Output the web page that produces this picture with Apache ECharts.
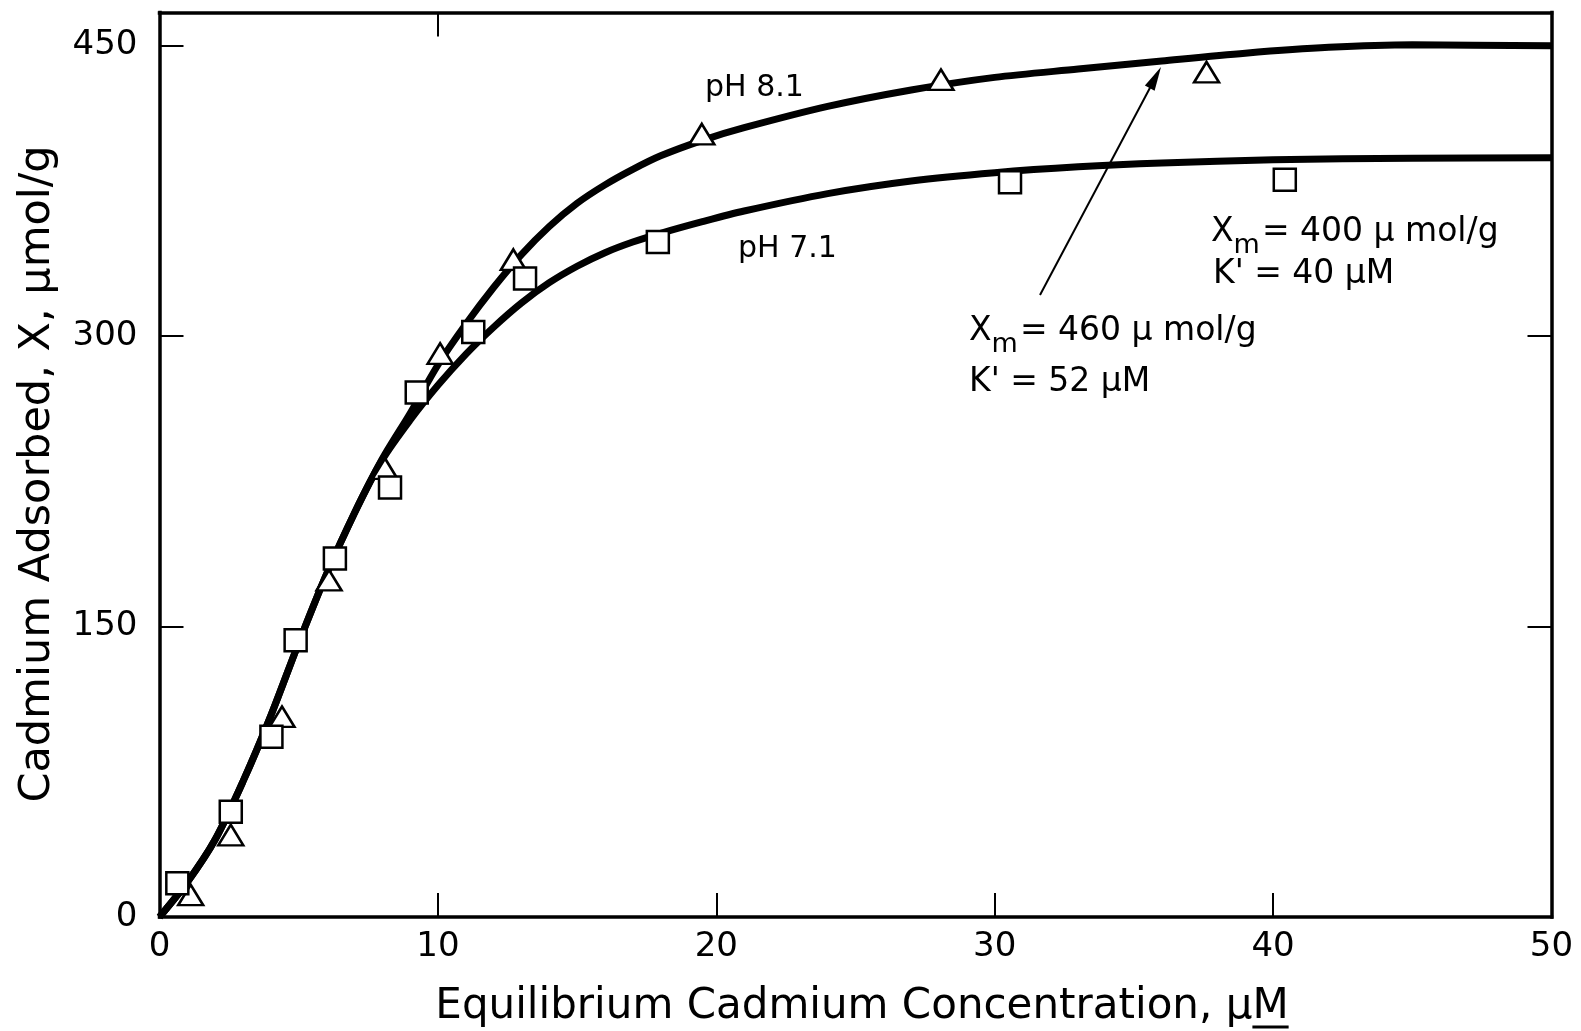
<!DOCTYPE html>
<html>
<head>
<meta charset="utf-8">
<script src="https://cdn.jsdelivr.net/npm/echarts@6/dist/echarts.min.js"></script>
<style>
html,body{margin:0;padding:0;background:#fff;}
#c{width:1581px;height:1031px;}
</style>
</head>
<body>
<div id="c"></div>
<script>
// ---- data ----
var xTickLabels = [0, 10, 20, 30, 40, 50];
var yTickLabels = [0, 150, 300, 450];

// measured points, pH 8.1 (triangles)
var ph81X = [1.12, 2.56, 4.40, 6.09, 8.10, 10.08, 12.71, 19.48, 28.07, 37.61];
var ph81Y = [11.4, 42.3, 103.4, 173.9, 231.5, 290.9, 339.4, 404.2, 432.3, 436.2];

// measured points, pH 7.1 (squares)
var ph71X = [0.64, 2.56, 4.02, 4.89, 6.30, 8.28, 9.24, 11.27, 13.13, 17.90, 30.55, 40.42];
var ph71Y = [17.4, 54.3, 93.0, 142.9, 185.1, 221.7, 270.8, 302.0, 329.6, 348.5, 379.3, 380.7];

// fitted curves
var ph81CurveX = [0, 1, 2, 3, 4, 5, 6, 7, 8, 9, 10, 11, 12, 13, 14, 15, 16, 17, 18, 19.5, 21, 24, 27, 30, 33, 36, 39, 42, 45, 50];
var ph81CurveY = [0, 18, 40, 70, 104, 141.5, 177, 208.5, 236.5, 260, 285, 306, 325, 342, 356.5, 368.5, 378, 386, 393, 401, 407.5, 418.5, 427, 433.5, 437.8, 442, 446, 449, 450.3, 449.8];

var ph71CurveX = [0, 1, 2, 3, 4, 5, 6, 7, 8, 9, 10, 11, 12, 13, 14, 15, 16, 17, 18, 19.5, 21, 24, 27, 30, 33, 36, 40, 45, 50];
var ph71CurveY = [0, 18, 40, 70, 104, 141.5, 177, 208.5, 236, 256.5, 274.5, 290.5, 304.5, 317, 327.5, 336, 343, 348.5, 353, 359, 364.5, 373.5, 380, 384.3, 387.3, 389.3, 391, 391.8, 392];

var xTitle = 'Equilibrium Cadmium Concentration, \u03bcM';
var yTitle = 'Cadmium Adsorbed, X, \u03bcmol/g';

function zip(a, b) { return a.map(function (v, i) { return [v, b[i]]; }); }

var FONT = '"DejaVu Sans", "Liberation Sans", sans-serif';
var mctx = document.createElement('canvas').getContext('2d');
function measure(str, size) { mctx.font = size + 'px "DejaVu Sans"'; return mctx.measureText(str).width; }

var chart = echarts.init(document.getElementById('c'), null, {renderer: 'canvas'});

var axisLineStyle = {color: '#000', width: 3.5, cap: 'square'};
var tickStyle = {color: '#000', width: 2};

function txt(str, x, y, size, extra) {
  var o = {
    type: 'text', x: x, y: y, silent: true, z: 100,
    style: {
      text: str, fontSize: size, fontFamily: FONT, fill: '#000',
      textAlign: 'left', textVerticalAlign: 'middle', align: 'left', verticalAlign: 'middle'
    }
  };
  if (extra) { for (var k in extra) o[k] = extra[k]; }
  return o;
}

var graphics = [];
// x-axis title with underlined M
var xTitleSize = 42, xTitleCx = 862, xTitleCy = 1007;
var xt = txt(xTitle, xTitleCx, xTitleCy, xTitleSize);
xt.style.textAlign = 'center'; xt.style.align = 'center';
graphics.push(xt);
var wT = measure(xTitle, xTitleSize), wM = measure('M', xTitleSize);
var xr = xTitleCx + wT / 2;
graphics.push({type: 'line', silent: true, z: 100, shape: {x1: xr - wM, y1: 1027, x2: xr, y2: 1027}, style: {stroke: '#000', lineWidth: 3}});
// y-axis title
var yt = txt(yTitle, 38, 474, 43, {rotation: Math.PI / 2});
yt.style.textAlign = 'center'; yt.style.align = 'center';
graphics.push(yt);

// curve labels
graphics.push(txt('pH 8.1', 705, 88, 30));
graphics.push(txt('pH 7.1', 738, 249.5, 30));

// Xm / K' annotations
function xmBlock(x, y, value, kLine, ky, kx) {
  var wX = measure('X', 33);
  graphics.push(txt('X', x, y, 33));
  graphics.push(txt('m', x + wX, y + 14, 27));
  var wm = measure('m', 27);
  graphics.push(txt('= ' + value + ' \u03bc mol/g', x + wX + wm + 2, y, 33));
  graphics.push(txt(kLine, kx, ky, 33));
}
xmBlock(969, 331, '460', 'K\' = 52 \u03bcM', 382, 969);
xmBlock(1211, 232, '400', 'K\' = 40 \u03bcM', 274, 1213);

// arrow
(function () {
  var x1 = 1040, y1 = 295, x2 = 1161, y2 = 67;
  var dx = x2 - x1, dy = y2 - y1, L = Math.sqrt(dx * dx + dy * dy);
  var ux = dx / L, uy = dy / L, nx = -uy, ny = ux;
  var hl = 24, hw = 5.5;
  var bx = x2 - ux * hl, by = y2 - uy * hl;
  graphics.push({type: 'line', silent: true, z: 100, shape: {x1: x1, y1: y1, x2: bx + ux * 4, y2: by + uy * 4}, style: {stroke: '#000', lineWidth: 2}});
  graphics.push({type: 'polygon', silent: true, z: 100, shape: {points: [[x2, y2], [bx + nx * hw, by + ny * hw], [bx - nx * hw, by - ny * hw]]}, style: {fill: '#000'}});
})();

var option = {
  backgroundColor: '#fff',
  animation: false,
  textStyle: {fontFamily: FONT, color: '#000'},
  grid: {left: 159.5, right: 29.5, top: 12.5, bottom: 114},
  xAxis: [
    {
      type: 'value', min: 0, max: 50, interval: 10, position: 'bottom',
      axisLine: {show: true, onZero: false, lineStyle: axisLineStyle},
      axisTick: {show: true, inside: true, length: 24, lineStyle: tickStyle, customValues: [10, 20, 30, 40]},
      axisLabel: {show: true, color: '#000', fontSize: 34, fontFamily: FONT, margin: 13, customValues: xTickLabels},
      splitLine: {show: false}
    },
    {
      type: 'value', min: 0, max: 50, interval: 10, position: 'top',
      axisLine: {show: true, onZero: false, lineStyle: axisLineStyle},
      axisTick: {show: true, inside: true, length: 24, lineStyle: tickStyle, customValues: [10]},
      axisLabel: {show: false},
      splitLine: {show: false}
    }
  ],
  yAxis: [
    {
      type: 'value', min: 0, max: 467, interval: 150, position: 'left',
      axisLine: {show: true, onZero: false, lineStyle: axisLineStyle},
      axisTick: {show: true, inside: true, length: 24, lineStyle: tickStyle, customValues: [150, 300, 450]},
      axisLabel: {show: true, color: '#000', fontSize: 34, fontFamily: FONT, margin: 22, customValues: yTickLabels},
      splitLine: {show: false}
    },
    {
      type: 'value', min: 0, max: 467, interval: 150, position: 'right',
      axisLine: {show: true, onZero: false, lineStyle: axisLineStyle},
      axisTick: {show: true, inside: true, length: 24, lineStyle: tickStyle, customValues: [150, 300]},
      axisLabel: {show: false},
      splitLine: {show: false}
    }
  ],
  series: [
    {
      name: 'pH 8.1 fit', type: 'line', data: zip(ph81CurveX, ph81CurveY),
      smooth: 0.3, symbol: 'none', silent: true, z: 2,
      lineStyle: {color: '#000', width: 7}
    },
    {
      name: 'pH 7.1 fit', type: 'line', data: zip(ph71CurveX, ph71CurveY),
      smooth: 0.3, symbol: 'none', silent: true, z: 2,
      lineStyle: {color: '#000', width: 7}
    },
    {
      name: 'pH 8.1', type: 'scatter', data: zip(ph81X, ph81Y),
      symbol: 'triangle', symbolSize: [25, 20.5], z: 5,
      itemStyle: {color: '#fff', borderColor: '#000', borderWidth: 2.5, opacity: 1}
    },
    {
      name: 'pH 7.1', type: 'scatter', data: zip(ph71X, ph71Y),
      symbol: 'rect', symbolSize: [22, 22], z: 5,
      itemStyle: {color: '#fff', borderColor: '#000', borderWidth: 2.5, opacity: 1}
    }
  ],
  graphic: graphics
};
chart.setOption(option);
</script>
</body>
</html>
